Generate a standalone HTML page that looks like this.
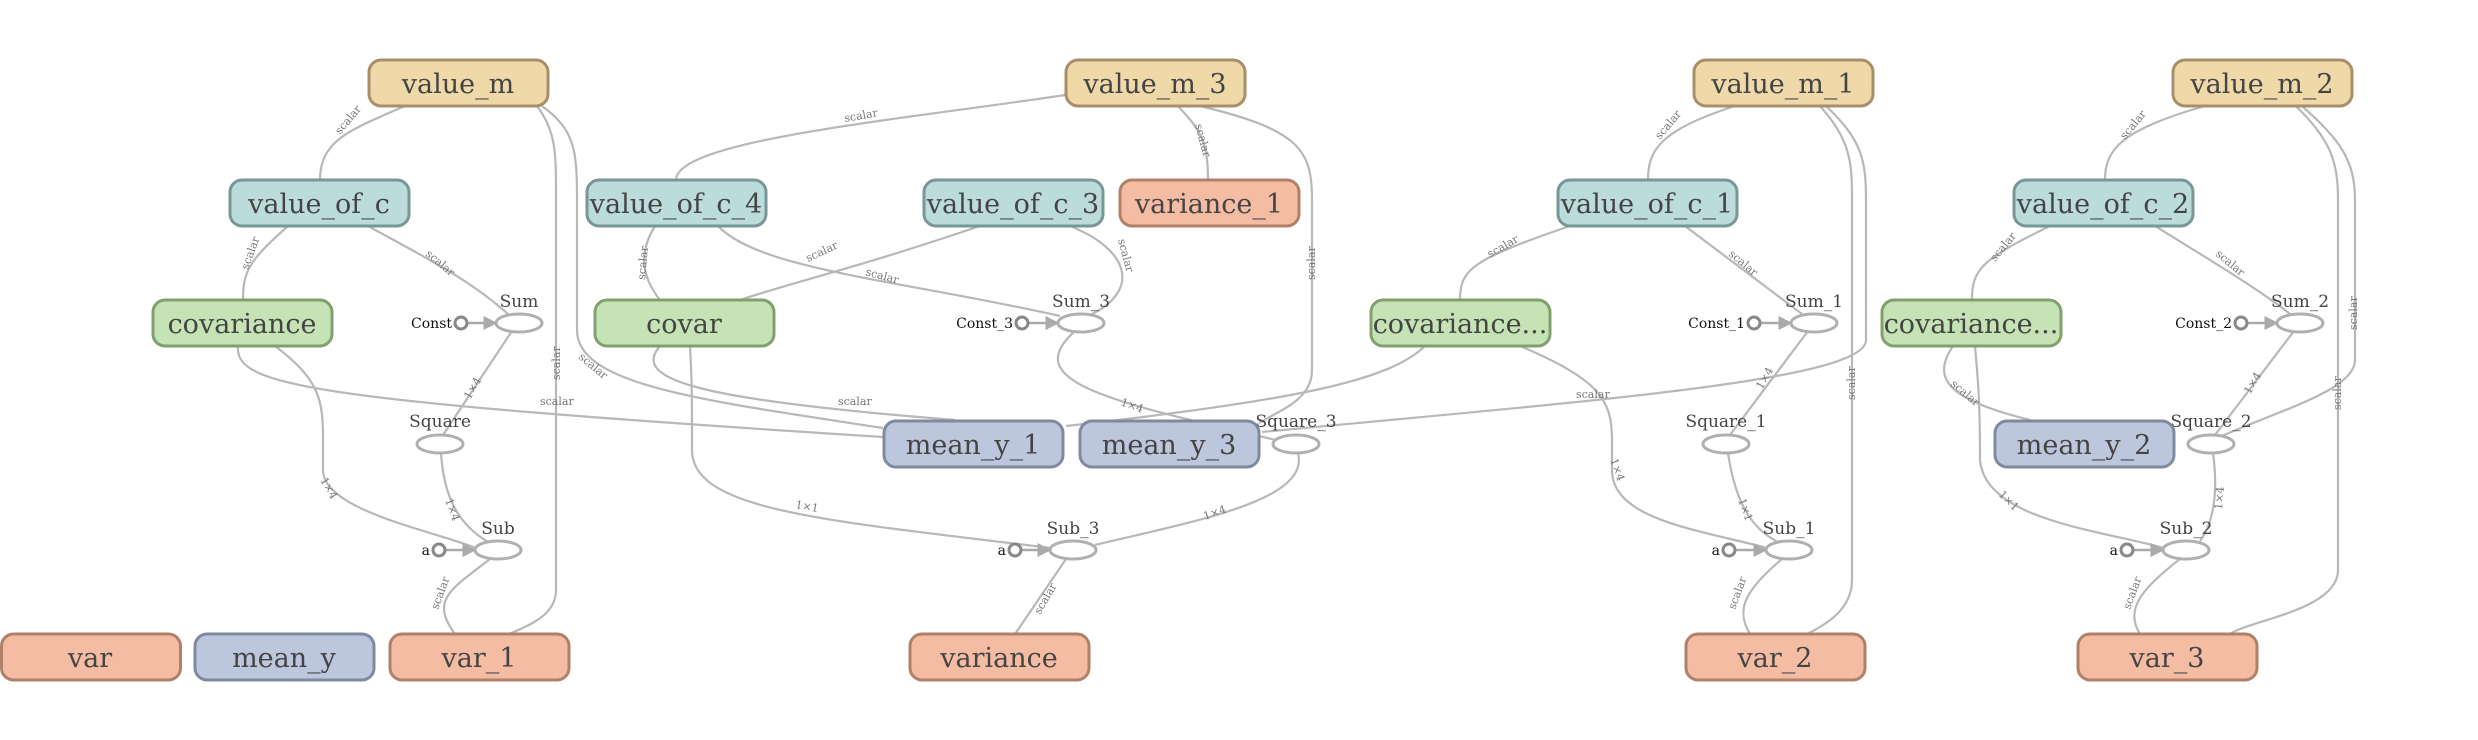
<!DOCTYPE html>
<html><head><meta charset="utf-8"><style>
html,body{margin:0;padding:0;background:#fff;}
svg{display:block;font-family:"DejaVu Serif","Liberation Serif",serif;}
.e{fill:none;stroke:#b8b8b8;stroke-width:2.2;}
.n rect{stroke-width:3;}
.n text{font-size:27px;fill:#444;text-anchor:middle;}
.y rect{fill:#f0d9a9;stroke:#a88f6a;}
.t rect{fill:#bcdcdc;stroke:#7a9696;}
.g rect{fill:#c6e3b6;stroke:#82a06e;}
.s rect{fill:#f5bca4;stroke:#b08068;}
.b rect{fill:#bcc6dd;stroke:#7f8aa0;}
.op{fill:#fff;stroke:#b0b0b0;stroke-width:3;}
.c{fill:#fff;stroke:#888;stroke-width:3;}
.ol{font-size:17px;fill:#444;text-anchor:middle;}
.cl{font-size:14px;fill:#111;text-anchor:end;}
.lb{font-size:11px;fill:#777;}
</style></head><body>
<svg width="2478" height="740" viewBox="0 0 2478 740" xmlns="http://www.w3.org/2000/svg">
<defs><marker id="ar" markerWidth="8" markerHeight="8" refX="7" refY="4" orient="auto" markerUnits="userSpaceOnUse"><path d="M0,0 L8,4 L0,8 z" fill="#aaa"/></marker>
<marker id="ar2" viewBox="0 0 10 10" markerWidth="14" markerHeight="14" refX="9" refY="5" orient="auto" markerUnits="userSpaceOnUse"><path d="M0,0 L10,5 L0,10 z" fill="#aaa"/></marker></defs>
<g>
<!-- value_m group -->
<path class="e" d="M405,106 C350,130 320,140 320,180"/>
<path class="e" d="M537,106 C555,130 556,150 556,190 L556,590 C556,615 530,625 509,634"/>
<path class="e" d="M542,106 C575,130 577,150 577,200 L577,330 C577,385 700,400 883,428"/>
<path class="e" d="M238,346 C235,385 300,400 883,437"/>
<path class="e" d="M275,346 C320,380 323,400 323,440 L323,470 C323,510 430,530 476,548"/>
<path class="e" d="M288,226 C250,260 243,270 243,300"/>
<path class="e" d="M368,226 C430,260 470,280 508,314"/>
<path class="e" d="M512,331 L443,435"/>
<path class="e" d="M441,453 C444,500 460,525 488,542"/>
<path class="e" d="M490,559 C450,590 430,600 455,634"/>
<!-- value_m_3 group -->
<path class="e" d="M1065,95 C900,120 676,140 676,180"/>
<path class="e" d="M1178,106 C1200,130 1208,140 1208,180"/>
<path class="e" d="M1200,106 C1300,130 1312,150 1312,200 L1312,370 C1312,400 1280,410 1259,423"/>
<path class="e" d="M655,226 C640,250 640,275 660,300"/>
<path class="e" d="M718,226 C760,270 900,280 1060,316"/>
<path class="e" d="M980,226 C850,270 800,280 740,300"/>
<path class="e" d="M1070,226 C1130,250 1140,290 1092,314"/>
<path class="e" d="M660,346 C630,380 700,400 955,420"/>
<path class="e" d="M690,346 C692,380 692,400 692,450 C692,510 820,520 1051,548"/>
<path class="e" d="M1075,331 C1020,380 1100,400 1276,440"/>
<path class="e" d="M1298,453 C1310,500 1200,520 1095,545"/>
<path class="e" d="M1066,559 L1015,634"/>
<!-- value_m_1 group -->
<path class="e" d="M1735,106 C1660,130 1648,150 1648,180"/>
<path class="e" d="M1820,106 C1850,140 1852,160 1852,200 L1852,580 C1852,610 1825,625 1807,634"/>
<path class="e" d="M1826,106 C1862,140 1866,160 1866,200 L1866,340 C1866,380 1600,400 1262,432"/>
<path class="e" d="M1570,226 C1470,260 1460,270 1460,300"/>
<path class="e" d="M1685,226 C1730,260 1770,290 1802,314"/>
<path class="e" d="M1425,346 C1390,380 1300,400 1066,426"/>
<path class="e" d="M1520,346 C1600,380 1612,400 1612,440 L1612,470 C1612,520 1700,530 1767,548"/>
<path class="e" d="M1808,331 L1730,435"/>
<path class="e" d="M1728,453 C1735,500 1750,528 1778,542"/>
<path class="e" d="M1782,559 C1745,590 1735,610 1750,634"/>
<!-- value_m_2 group -->
<path class="e" d="M2205,106 C2120,130 2105,150 2105,180"/>
<path class="e" d="M2296,106 C2330,140 2338,160 2338,200 L2338,570 C2338,610 2250,620 2230,634"/>
<path class="e" d="M2302,106 C2340,140 2355,160 2355,200 L2355,360 C2355,390 2280,410 2222,436"/>
<path class="e" d="M2050,226 C1980,260 1972,270 1972,300"/>
<path class="e" d="M2155,226 C2210,260 2260,290 2290,314"/>
<path class="e" d="M1953,346 C1930,380 1950,400 2030,420"/>
<path class="e" d="M1975,346 C1978,380 1980,400 1980,460 C1985,520 2100,530 2164,548"/>
<path class="e" d="M2294,331 L2215,435"/>
<path class="e" d="M2213,453 C2218,490 2215,520 2200,541"/>
<path class="e" d="M2180,559 C2140,590 2125,610 2140,634"/>
</g>
<!-- edge labels -->
<g class="lb">
<text x="340" y="135" transform="rotate(-50 340 135)">scalar</text>
<text x="248" y="270" transform="rotate(-70 248 270)">scalar</text>
<text x="425" y="255" transform="rotate(40 425 255)">scalar</text>
<text x="560" y="380" transform="rotate(-90 560 380)">scalar</text>
<text x="578" y="358" transform="rotate(40 578 358)">scalar</text>
<text x="540" y="405">scalar</text>
<text x="470" y="400" transform="rotate(-60 470 400)">1×4</text>
<text x="320" y="480" transform="rotate(60 320 480)">1×4</text>
<text x="445" y="500" transform="rotate(70 445 500)">1×4</text>
<text x="438" y="610" transform="rotate(-70 438 610)">scalar</text>
<text x="845" y="122" transform="rotate(-10 845 122)">scalar</text>
<text x="1195" y="125" transform="rotate(75 1195 125)">scalar</text>
<text x="645" y="280" transform="rotate(-85 645 280)">scalar</text>
<text x="808" y="262" transform="rotate(-25 808 262)">scalar</text>
<text x="865" y="275" transform="rotate(15 865 275)">scalar</text>
<text x="1118" y="240" transform="rotate(75 1118 240)">scalar</text>
<text x="838" y="405">scalar</text>
<text x="1315" y="280" transform="rotate(-90 1315 280)">scalar</text>
<text x="1120" y="405" transform="rotate(20 1120 405)">1×4</text>
<text x="795" y="508" transform="rotate(10 795 508)">1×1</text>
<text x="1205" y="520" transform="rotate(-20 1205 520)">1×4</text>
<text x="1040" y="615" transform="rotate(-60 1040 615)">scalar</text>
<text x="1660" y="140" transform="rotate(-50 1660 140)">scalar</text>
<text x="1490" y="258" transform="rotate(-30 1490 258)">scalar</text>
<text x="1728" y="255" transform="rotate(40 1728 255)">scalar</text>
<text x="1576" y="398">scalar</text>
<text x="1855" y="400" transform="rotate(-90 1855 400)">scalar</text>
<text x="1762" y="390" transform="rotate(-60 1762 390)">1×4</text>
<text x="1610" y="460" transform="rotate(70 1610 460)">1×4</text>
<text x="1738" y="500" transform="rotate(70 1738 500)">1×1</text>
<text x="1735" y="610" transform="rotate(-70 1735 610)">scalar</text>
<text x="2125" y="140" transform="rotate(-50 2125 140)">scalar</text>
<text x="1995" y="262" transform="rotate(-50 1995 262)">scalar</text>
<text x="2215" y="255" transform="rotate(40 2215 255)">scalar</text>
<text x="1950" y="385" transform="rotate(40 1950 385)">scalar</text>
<text x="2357" y="330" transform="rotate(-90 2357 330)">scalar</text>
<text x="2341" y="410" transform="rotate(-90 2341 410)">scalar</text>
<text x="2250" y="395" transform="rotate(-60 2250 395)">1×4</text>
<text x="1998" y="495" transform="rotate(45 1998 495)">1×1</text>
<text x="2222" y="510" transform="rotate(-85 2222 510)">1×4</text>
<text x="2130" y="610" transform="rotate(-70 2130 610)">scalar</text>
</g>
<!-- ops -->
<g>
<ellipse class="op" cx="519" cy="323" rx="23" ry="9"/><text class="ol" x="519" y="307">Sum</text>
<line x1="467" y1="323" x2="496" y2="323" stroke="#aaa" stroke-width="2.5" marker-end="url(#ar2)"/><circle class="c" cx="461" cy="323" r="6"/><text class="cl" x="452" y="328">Const</text>
<ellipse class="op" cx="1081" cy="323" rx="23" ry="9"/><text class="ol" x="1081" y="307">Sum_3</text>
<line x1="1028" y1="323" x2="1058" y2="323" stroke="#aaa" stroke-width="2.5" marker-end="url(#ar2)"/><circle class="c" cx="1022" cy="323" r="6"/><text class="cl" x="1013" y="328">Const_3</text>
<ellipse class="op" cx="1814" cy="323" rx="23" ry="9"/><text class="ol" x="1814" y="307">Sum_1</text>
<line x1="1760" y1="323" x2="1791" y2="323" stroke="#aaa" stroke-width="2.5" marker-end="url(#ar2)"/><circle class="c" cx="1754" cy="323" r="6"/><text class="cl" x="1745" y="328">Const_1</text>
<ellipse class="op" cx="2300" cy="323" rx="23" ry="9"/><text class="ol" x="2300" y="307">Sum_2</text>
<line x1="2247" y1="323" x2="2277" y2="323" stroke="#aaa" stroke-width="2.5" marker-end="url(#ar2)"/><circle class="c" cx="2241" cy="323" r="6"/><text class="cl" x="2232" y="328">Const_2</text>
<ellipse class="op" cx="440" cy="444" rx="23" ry="9"/><text class="ol" x="440" y="427">Square</text>
<ellipse class="op" cx="1296" cy="444" rx="23" ry="9"/><text class="ol" x="1296" y="427">Square_3</text>
<ellipse class="op" cx="1726" cy="444" rx="23" ry="9"/><text class="ol" x="1726" y="427">Square_1</text>
<ellipse class="op" cx="2211" cy="444" rx="23" ry="9"/><text class="ol" x="2211" y="427">Square_2</text>
<ellipse class="op" cx="498" cy="550" rx="23" ry="9"/><text class="ol" x="498" y="534">Sub</text>
<line x1="445" y1="550" x2="475" y2="550" stroke="#aaa" stroke-width="2.5" marker-end="url(#ar2)"/><circle class="c" cx="439" cy="550" r="6"/><text class="cl" x="430" y="555">a</text>
<ellipse class="op" cx="1073" cy="550" rx="23" ry="9"/><text class="ol" x="1073" y="534">Sub_3</text>
<line x1="1021" y1="550" x2="1050" y2="550" stroke="#aaa" stroke-width="2.5" marker-end="url(#ar2)"/><circle class="c" cx="1015" cy="550" r="6"/><text class="cl" x="1006" y="555">a</text>
<ellipse class="op" cx="1789" cy="550" rx="23" ry="9"/><text class="ol" x="1789" y="534">Sub_1</text>
<line x1="1735" y1="550" x2="1766" y2="550" stroke="#aaa" stroke-width="2.5" marker-end="url(#ar2)"/><circle class="c" cx="1729" cy="550" r="6"/><text class="cl" x="1720" y="555">a</text>
<ellipse class="op" cx="2186" cy="550" rx="23" ry="9"/><text class="ol" x="2186" y="534">Sub_2</text>
<line x1="2133" y1="550" x2="2163" y2="550" stroke="#aaa" stroke-width="2.5" marker-end="url(#ar2)"/><circle class="c" cx="2127" cy="550" r="6"/><text class="cl" x="2118" y="555">a</text>
</g>
<!-- nodes -->
<g class="n y"><rect x="369" y="60" width="179" height="46" rx="12"/><text x="458" y="93">value_m</text></g>
<g class="n y"><rect x="1066" y="60" width="179" height="46" rx="12"/><text x="1155" y="93">value_m_3</text></g>
<g class="n y"><rect x="1694" y="60" width="179" height="46" rx="12"/><text x="1783" y="93">value_m_1</text></g>
<g class="n y"><rect x="2173" y="60" width="179" height="46" rx="12"/><text x="2262" y="93">value_m_2</text></g>
<g class="n t"><rect x="230" y="180" width="179" height="46" rx="12"/><text x="319" y="213">value_of_c</text></g>
<g class="n t"><rect x="587" y="180" width="179" height="46" rx="12"/><text x="676" y="213">value_of_c_4</text></g>
<g class="n t"><rect x="924" y="180" width="179" height="46" rx="12"/><text x="1013" y="213">value_of_c_3</text></g>
<g class="n s"><rect x="1120" y="180" width="179" height="46" rx="12"/><text x="1209" y="213">variance_1</text></g>
<g class="n t"><rect x="1558" y="180" width="179" height="46" rx="12"/><text x="1647" y="213">value_of_c_1</text></g>
<g class="n t"><rect x="2014" y="180" width="179" height="46" rx="12"/><text x="2103" y="213">value_of_c_2</text></g>
<g class="n g"><rect x="153" y="300" width="179" height="46" rx="12"/><text x="242" y="333">covariance</text></g>
<g class="n g"><rect x="595" y="300" width="179" height="46" rx="12"/><text x="684" y="333">covar</text></g>
<g class="n g"><rect x="1371" y="300" width="179" height="46" rx="12"/><text x="1460" y="333">covariance...</text></g>
<g class="n g"><rect x="1882" y="300" width="179" height="46" rx="12"/><text x="1971" y="333">covariance...</text></g>
<g class="n b"><rect x="884" y="421" width="179" height="46" rx="12"/><text x="973" y="454">mean_y_1</text></g>
<g class="n b"><rect x="1080" y="421" width="179" height="46" rx="12"/><text x="1169" y="454">mean_y_3</text></g>
<g class="n b"><rect x="1995" y="421" width="179" height="46" rx="12"/><text x="2084" y="454">mean_y_2</text></g>
<g class="n s"><rect x="1.5" y="634" width="179" height="46" rx="12"/><text x="90" y="667">var</text></g>
<g class="n b"><rect x="195" y="634" width="179" height="46" rx="12"/><text x="284" y="667">mean_y</text></g>
<g class="n s"><rect x="390" y="634" width="179" height="46" rx="12"/><text x="479" y="667">var_1</text></g>
<g class="n s"><rect x="910" y="634" width="179" height="46" rx="12"/><text x="999" y="667">variance</text></g>
<g class="n s"><rect x="1686" y="634" width="179" height="46" rx="12"/><text x="1775" y="667">var_2</text></g>
<g class="n s"><rect x="2078" y="634" width="179" height="46" rx="12"/><text x="2167" y="667">var_3</text></g>
</svg>
</body></html>
